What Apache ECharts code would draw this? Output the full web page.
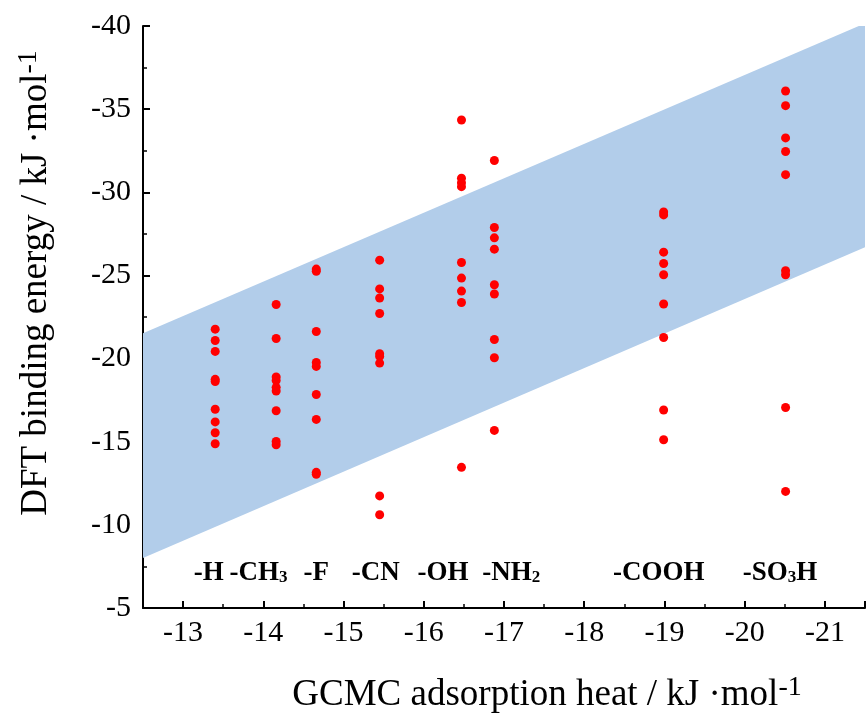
<!DOCTYPE html>
<html>
<head>
<meta charset="utf-8">
<script src="https://cdn.jsdelivr.net/npm/echarts@6/dist/echarts.min.js"></script>
<style>html,body{margin:0;padding:0;background:#fff}#c{width:868px;height:720px}</style>
</head>
<body>
<div id="c"></div>
<script>
// ---- data ----
const xGroups = [-13.40, -14.16, -14.66, -15.45, -16.47, -16.88, -18.99, -20.51];
const yH    = [-21.77, -21.09, -20.43, -18.75, -18.62, -16.95, -16.19, -15.54, -14.88];
const yCH3  = [-23.25, -21.21, -18.89, -18.68, -18.27, -18.05, -16.86, -15.02, -14.82];
const yF    = [-25.38, -25.25, -21.63, -19.77, -19.53, -17.84, -16.34, -13.16, -13.04];
const yCN   = [-25.92, -24.19, -23.64, -22.71, -20.29, -20.13, -19.73, -11.74, -10.61];
const yOH   = [-34.35, -30.85, -30.58, -30.34, -25.78, -24.84, -24.06, -23.37, -13.46];
const yNH2  = [-31.91, -27.88, -27.26, -26.58, -24.44, -23.88, -21.15, -20.05, -15.68];
const yCOOH = [-28.82, -28.64, -26.40, -25.72, -25.04, -23.28, -21.27, -16.91, -15.12];
const ySO3H = [-36.09, -35.21, -33.27, -32.45, -31.06, -25.28, -25.04, -17.06, -12.01];
const groupY = [yH, yCH3, yF, yCN, yOH, yNH2, yCOOH, ySO3H];

const labelText = ['-H', '-CH{sub|3}', '-F', '-CN', '-OH', '-NH{sub|2}', '-COOH', '-SO{sub|3}H'];
const labelX = [-13.32, -13.94, -14.66, -15.40, -16.24, -17.09, -18.93, -20.44];
const labelY = -7.1;

const bandX = [-12.5, -21.5];
const bandUpper = [-21.53, -40.16];
const bandLower = [-8.01, -26.70];

const xTitle = 'GCMC adsorption heat / kJ \u00B7mol{sup|-1}';
const yTitle = 'DFT binding energy / kJ \u00B7mol{sup|-1}';

// ---- build ----
const FONT = '"Liberation Serif", "Times New Roman", serif';
const points = [];
groupY.forEach((arr, i) => arr.forEach(v => points.push([xGroups[i], v])));
const labelData = labelX.map((x, i) => ({ value: [x, labelY], name: labelText[i] }));

const chart = echarts.init(document.getElementById('c'), null, { renderer: 'canvas' });
const axisBlack = { color: '#000', width: 2 };
const titleRich = { sup: { fontSize: 28, lineHeight: 28, fontFamily: FONT, fill: '#000', verticalAlign: 'top' } };
chart.setOption({
  animation: false,
  backgroundColor: '#fff',
  grid: { left: 143, top: 26, right: 0, bottom: 112, containLabel: false },
  xAxis: [
    {
      type: 'value', min: -21.5, max: -12.5, interval: 0.5, inverse: true, position: 'bottom',
      axisLine: { show: true, lineStyle: axisBlack },
      axisTick: { show: true, inside: true, length: 4, lineStyle: { color: '#000', width: 1.5 } },
      axisLabel: { show: false },
      splitLine: { show: false }
    },
    {
      type: 'value', min: -21.5, max: -12.5, splitNumber: 9, inverse: true, position: 'bottom',
      axisLine: { show: false },
      axisTick: { show: true, inside: true, length: 7, lineStyle: { color: '#000', width: 2 } },
      axisLabel: {
        show: true, margin: 10, color: '#000', fontSize: 30, fontFamily: FONT,
        formatter: v => (Math.abs(v - Math.round(v)) < 1e-6 ? String(Math.round(v)) : '')
      },
      splitLine: { show: false }
    }
  ],
  yAxis: {
    type: 'value', min: -40, max: -5, interval: 5, inverse: true,
    axisLine: { show: true, lineStyle: axisBlack },
    axisTick: { show: true, inside: true, length: 7, lineStyle: { color: '#000', width: 2 } },
    minorTick: { show: true, splitNumber: 2, length: 4, lineStyle: { color: '#000', width: 1.5 } },
    axisLabel: { show: true, margin: 12, color: '#000', fontSize: 30, fontFamily: FONT },
    splitLine: { show: false },
    minorSplitLine: { show: false }
  },
  series: [
    {
      type: 'custom',
      clip: true,
      z: 1,
      silent: true,
      data: [[bandX[0], bandUpper[0], bandX[1], bandUpper[1], bandLower[0], bandLower[1]]],
      encode: { x: [0, 2], y: [1, 3, 4, 5] },
      renderItem: (params, api) => {
        const pts = [
          api.coord([api.value(0), api.value(1)]),
          api.coord([api.value(2), api.value(3)]),
          api.coord([api.value(2), api.value(5)]),
          api.coord([api.value(0), api.value(4)])
        ];
        return { type: 'polygon', shape: { points: pts }, style: { fill: '#b2cdea' } };
      }
    },
    {
      type: 'scatter',
      z: 3,
      symbol: 'circle',
      symbolSize: 9,
      itemStyle: { color: '#ff0000', opacity: 1 },
      data: points
    },
    {
      type: 'scatter',
      z: 4,
      symbolSize: 0,
      silent: true,
      itemStyle: { opacity: 1, color: '#000' },
      data: labelData,
      label: {
        show: true, position: 'inside', align: 'center', verticalAlign: 'middle', opacity: 1,
        formatter: p => p.name,
        color: '#000', fontSize: 27, fontWeight: 'bold', fontFamily: FONT,
        rich: {
          sub: { fontSize: 17, fontWeight: 'bold', fontFamily: FONT, color: '#000', verticalAlign: 'bottom' }
        }
      }
    }
  ],
  graphic: [
    {
      type: 'text', x: 547, y: 695, z: 10,
      style: {
        text: xTitle, fill: '#000', fontSize: 37, lineHeight: 43, fontFamily: FONT, align: 'center', verticalAlign: 'middle',
        rich: titleRich
      }
    },
    {
      type: 'text', x: 36, y: 283, rotation: Math.PI / 2, z: 10,
      style: {
        text: yTitle, fill: '#000', fontSize: 37, lineHeight: 43, fontFamily: FONT, align: 'center', verticalAlign: 'middle',
        rich: titleRich
      }
    }
  ]
});
</script>
</body>
</html>
